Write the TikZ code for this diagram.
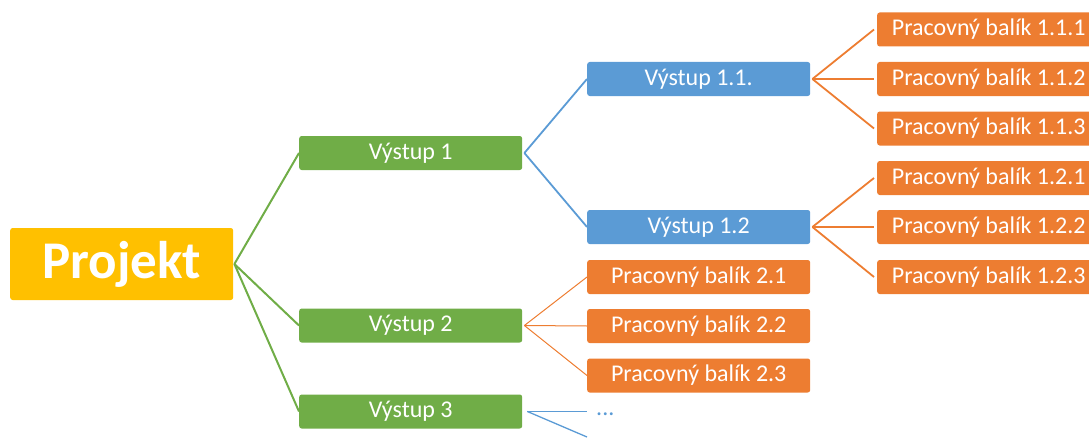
\documentclass[tikz,border=0pt]{standalone}
\usepackage{fontspec}
\setmainfont{Carlito}
\definecolor{projgold}{HTML}{FFC000}
\definecolor{outgreen}{HTML}{70AD47}
\definecolor{subblue}{HTML}{5B9BD5}
\definecolor{wporange}{HTML}{ED7D31}
\begin{document}
\begin{tikzpicture}[x=1pt,y=-1pt,
  box/.style={rectangle, rounded corners=2.5pt, text=white, minimum width=223pt,
    minimum height=34pt, inner sep=0pt, font=\fontsize{24}{26}\selectfont, anchor=west},
  rootbox/.style={box, fill=projgold, minimum width=223pt, minimum height=72pt,
    font=\fontsize{53}{56}\bfseries\selectfont},
  outbox/.style={box, fill=outgreen},
  subbox/.style={box, fill=subblue},
  wpbox/.style={box, fill=wporange},
  greenline/.style={draw=outgreen, line width=2pt},
  blueline/.style={draw=subblue, line width=1.8pt},
  bluethin/.style={draw=subblue, line width=1.3pt},
  orangeline/.style={draw=wporange, line width=1.8pt},
  orangethin/.style={draw=wporange, line width=1pt}]
\useasboundingbox (0,0) rectangle (1089,444);
\clip (0,0) rectangle (1089,444);

% root
\node[rootbox] (proj) at (10,264) {Projekt};

% deliverables
\node[outbox] (v1) at (299,153) {Výstup 1};
\node[outbox] (v2) at (299,325.5) {Výstup 2};
\node[outbox] (v3) at (299,411.5) {Výstup 3};

% sub-deliverables
\node[subbox] (v11) at (587,79) {Výstup 1.1.};
\node[subbox] (v12) at (587,227) {Výstup 1.2};

% work packages of deliverable 2
\node[wpbox] (p21) at (587,277) {Pracovný balík 2.1};
\node[wpbox] (p22) at (587,326) {Pracovný balík 2.2};
\node[wpbox] (p23) at (587,375.5) {Pracovný balík 2.3};

% work packages of 1.1 and 1.2
\node[wpbox] (p111) at (877,29.5) {Pracovný balík 1.1.1};
\node[wpbox] (p112) at (877,79) {Pracovný balík 1.1.2};
\node[wpbox] (p113) at (877,128.5) {Pracovný balík 1.1.3};
\node[wpbox] (p121) at (877,178) {Pracovný balík 1.2.1};
\node[wpbox] (p122) at (877,227) {Pracovný balík 1.2.2};
\node[wpbox] (p123) at (877,277) {Pracovný balík 1.2.3};

% continuation of deliverable 3
\coordinate (c31) at (587,411.5);
\coordinate (c32) at (587,437);
\node[text=subblue, font=\fontsize{24}{26}\selectfont, anchor=base west, inner sep=0pt]
  (dots) at (596,415) {...};

% connectors
\foreach \t in {v1,v2,v3}
  \draw[greenline] ([xshift=1pt]proj.east) -- (\t.west);
\foreach \t in {v11,v12}
  \draw[blueline] ([xshift=2pt]v1.east) -- (\t.west);
\foreach \t in {p21,p22,p23}
  \draw[orangethin] ([xshift=2pt]v2.east) -- (\t.west);
\foreach \t in {c31,c32}
  \draw[bluethin] ([xshift=5pt]v3.east) -- (\t);
\foreach \t in {p111,p112,p113}
  \draw[orangeline] ([xshift=2pt]v11.east) -- ([xshift=-3pt]\t.west);
\foreach \t in {p121,p122,p123}
  \draw[orangeline] ([xshift=2pt]v12.east) -- ([xshift=-3pt]\t.west);
\end{tikzpicture}
\end{document}
